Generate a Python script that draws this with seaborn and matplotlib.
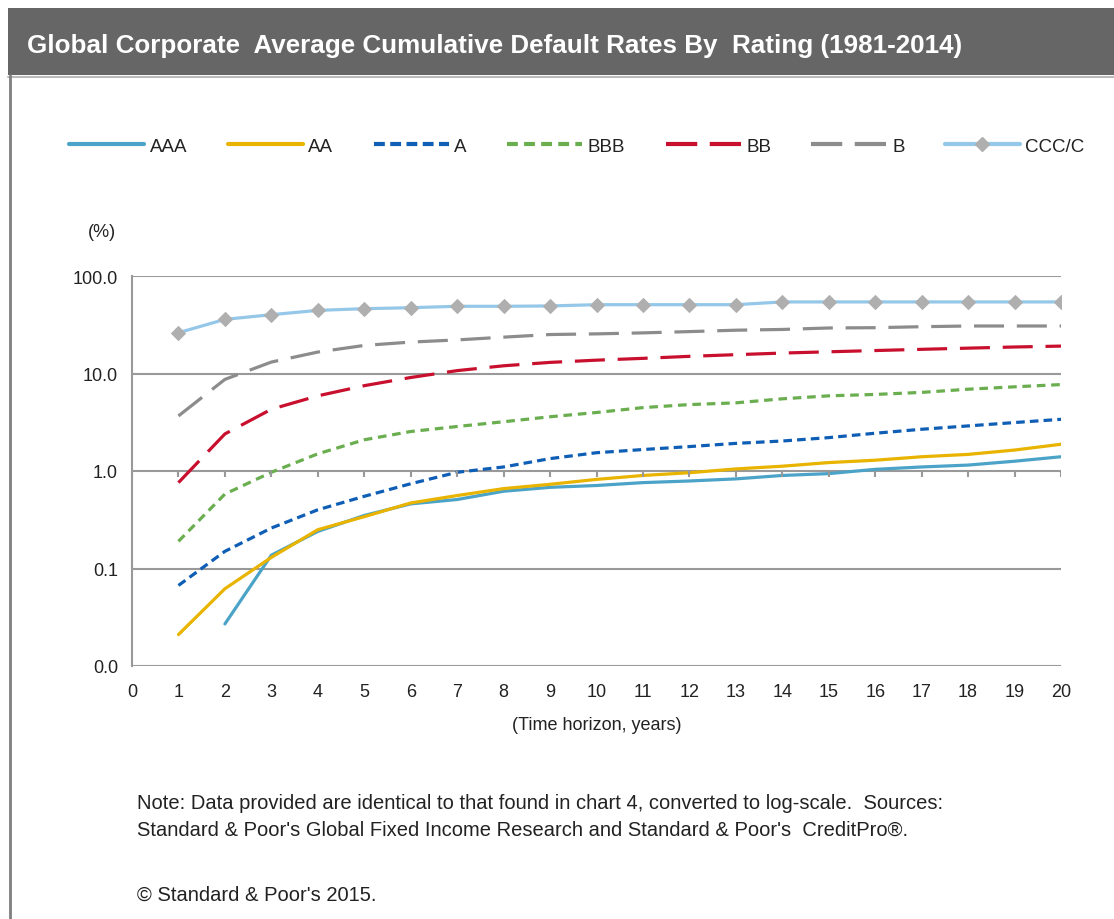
import numpy as np
import pandas as pd
import matplotlib
matplotlib.use("Agg")
import matplotlib.pyplot as plt
import seaborn as sns
from matplotlib.patches import Rectangle
from matplotlib.lines import Line2D

sns.set_theme(style="white")
FONT = ["Liberation Sans", "DejaVu Sans"]
plt.rcParams["font.family"] = FONT

years = list(range(1, 21))
AAA = [np.nan, 0.027, 0.137, 0.24, 0.35, 0.46, 0.51, 0.62, 0.68, 0.71,
       0.76, 0.79, 0.83, 0.90, 0.94, 1.04, 1.10, 1.15, 1.26, 1.40]
AA = [0.021, 0.062, 0.13, 0.25, 0.34, 0.47, 0.56, 0.66, 0.73, 0.82,
      0.90, 0.96, 1.05, 1.12, 1.22, 1.29, 1.40, 1.48, 1.64, 1.88]
A = [0.067, 0.15, 0.26, 0.40, 0.55, 0.74, 0.97, 1.10, 1.34, 1.54,
     1.66, 1.78, 1.92, 2.03, 2.20, 2.44, 2.68, 2.90, 3.14, 3.39]
BBB = [0.19, 0.58, 0.97, 1.50, 2.09, 2.54, 2.86, 3.20, 3.60, 3.98,
       4.47, 4.80, 5.00, 5.50, 5.90, 6.10, 6.40, 6.90, 7.30, 7.70]
BB = [0.76, 2.40, 4.30, 5.90, 7.50, 9.10, 10.7, 12.0, 13.0, 13.7,
      14.3, 15.0, 15.6, 16.2, 16.7, 17.2, 17.7, 18.2, 18.7, 19.1]
B = [3.67, 8.70, 13.1, 16.6, 19.4, 21.0, 22.1, 23.6, 25.1, 25.5,
     26.1, 26.9, 27.8, 28.3, 29.3, 29.5, 30.2, 30.7, 30.7, 30.7]
CCC_C = [26.2, 35.9, 40.1, 44.4, 46.2, 47.3, 48.9, 48.9, 49.3, 50.8,
         50.8, 50.8, 50.8, 54.2, 54.2, 54.2, 54.2, 54.2, 54.2, 54.2]

series_names = ["AAA", "AA", "A", "BBB", "BB", "B", "CCC/C"]
series_values = [AAA, AA, A, BBB, BB, B, CCC_C]

colors = ["#4BA3C8", "#E8B400", "#0F5EB5", "#6AAE4F", "#C8102E", "#8C8C8C", "#95C8E8"]
dash_styles = [None, None, (2.7, 1.6), (2.7, 1.8), (9.4, 4.0), (9.4, 4.0), None]
legend_dashes = [None, None, (2.6, 1.3), (2.6, 1.5), (7.5, 3.0), (7.5, 3.0), None]

fig = plt.figure(figsize=(11.14, 9.2), dpi=100)
W, H = 1114, 920

# title bar and frame
fig.patches.append(Rectangle((8 / W, 1 - 76 / H), 1 - 8 / W, 67 / H, transform=fig.transFigure,
                             facecolor="#666666", edgecolor="none", zorder=0))
fig.add_artist(Line2D([8 / W, 1], [1 - 77.5 / H, 1 - 77.5 / H], transform=fig.transFigure,
                      color="#BBBBBB", lw=1.5))
fig.add_artist(Line2D([9.5 / W, 9.5 / W], [0, 1 - 76 / H], transform=fig.transFigure,
                      color="#7F7F7F", lw=2))
fig.text(27 / W, 1 - 46 / H, "Global Corporate  Average Cumulative Default Rates By  Rating (1981-2014)",
         color="white", fontsize=18.7, fontweight="bold", va="center", ha="left")

ax = fig.add_axes([132 / W, 1 - 667 / H, (1061 - 132) / W, (667 - 277) / H])

handles = []
for name, vals, col, ds in zip(series_names, series_values, colors, dash_styles):
    df = pd.DataFrame({"year": years, "rate": vals}).dropna()
    kw = {}
    if name == "CCC/C":
        kw = dict(marker="D", markersize=7, markerfacecolor="#AFAFAF", markeredgecolor="#AFAFAF")
    sns.lineplot(data=df, x="year", y="rate", ax=ax, color=col, lw=2.3, label=name, **kw)
    ln = ax.get_lines()[-1]
    if ds is not None:
        ln.set_dashes(ds)
    handles.append(ln)
if ax.legend_ is not None:
    ax.legend_.remove()

ax.set_yscale("log")
ax.set_ylim(0.01, 100)
ax.set_xlim(0, 20)
ax.set_xticks(range(0, 21))
ax.set_yticks([0.01, 0.1, 1, 10, 100])
ax.yaxis.set_major_formatter(matplotlib.ticker.FuncFormatter(lambda v, p: f"{v:.1f}"))
ax.yaxis.set_minor_locator(matplotlib.ticker.NullLocator())
ax.grid(axis="y", color="#999999", lw=1.5)
ax.set_axisbelow(True)
for s in ["top", "right", "bottom"]:
    ax.spines[s].set_visible(False)
ax.spines["left"].set_color("#999999")
ax.spines["left"].set_linewidth(1.5)
ax.tick_params(axis="x", length=0, pad=12, labelsize=13, labelcolor="#222222")
ax.tick_params(axis="y", length=6, width=1.5, color="#999999", pad=4, labelsize=13, labelcolor="#222222")
# category-axis tick marks where that axis crosses (at 1.0)
ax.vlines(range(0, 21), 0.5 - 0.016, 0.5, transform=ax.get_xaxis_transform(), color="#999999", lw=1.5)
ax.set_xlabel("(Time horizon, years)", fontsize=13, color="#222222", labelpad=12)
ax.set_ylabel("")
ax.text(-0.047, 1.115, "(%)", transform=ax.transAxes, fontsize=13, color="#222222", ha="left", va="center")

leg_handles = []
for h, ds in zip(handles, legend_dashes):
    lh = Line2D([], [], color=h.get_color(), lw=3, marker=h.get_marker(), markersize=7,
                markerfacecolor="#AFAFAF", markeredgecolor="#AFAFAF")
    if ds is not None:
        lh.set_dashes(ds)
    leg_handles.append(lh)
fig.legend(leg_handles, series_names, loc="center", bbox_to_anchor=(577 / W, 1 - 147 / H), ncol=7,
           frameon=False, handlelength=4.0, columnspacing=2.15, handletextpad=0.3,
           prop={"size": 13.5}, labelcolor="#222222")

note_kw = dict(fontsize=14.5, color="#222222", va="center")
fig.text(137 / W, 1 - 804 / H,
         "Note: Data provided are identical to that found in chart 4, converted to log-scale.  Sources:",
         **note_kw)
fig.text(137 / W, 1 - 830 / H,
         "Standard & Poor's Global Fixed Income Research and Standard & Poor's  CreditPro®.",
         **note_kw)
fig.text(137 / W, 1 - 895 / H, "© Standard & Poor's 2015.", **note_kw)

fig.savefig("out.png", dpi=100, facecolor="white")
